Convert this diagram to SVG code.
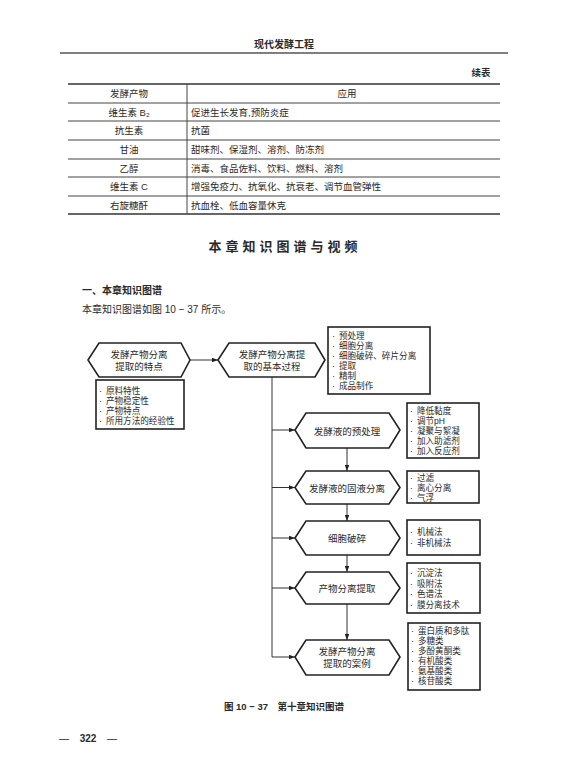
<svg xmlns="http://www.w3.org/2000/svg" width="574" height="784" viewBox="0 0 574 784">
<style>
text{font-family:"Liberation Sans","Noto Sans CJK SC",sans-serif;fill:#2a2a2a;dominant-baseline:central}
.t{font-size:9.5px}
.c{text-anchor:middle}
.b{font-weight:bold}
.it{font-size:8.6px}
.it tspan{dx:0}
.hx{fill:#fff;stroke:#222;stroke-width:1.6}
.bx{fill:#fff;stroke:#222;stroke-width:1.6}
.ln{stroke:#333;stroke-width:1;fill:none}
.tl{stroke:#444;stroke-width:1}
.tt{stroke:#333;stroke-width:1.6}
</style>
<defs>
<marker id="ah" viewBox="0 0 8 6" refX="8" refY="3" markerWidth="6" markerHeight="4.5" orient="auto" markerUnits="userSpaceOnUse"><path d="M0,0 L8,3 L0,6 z" fill="#222"/></marker>
</defs>
<rect width="574" height="784" fill="#fff"/>
<!-- header -->
<text x="284" y="44" class="c b" style="font-size:10px">现代发酵工程</text>
<line x1="60" y1="53" x2="508" y2="53" stroke="#555" stroke-width="1.5"/>
<text x="481" y="72" class="c b" style="font-size:9.5px">续表</text>
<!-- table -->
<g id="table">
<line x1="68" y1="84" x2="500" y2="84" class="tt"/>
<line x1="68" y1="103" x2="500" y2="103" class="tl"/>
<line x1="68" y1="121" x2="500" y2="121" class="tl"/>
<line x1="68" y1="140" x2="500" y2="140" class="tl"/>
<line x1="68" y1="159" x2="500" y2="159" class="tl"/>
<line x1="68" y1="177" x2="500" y2="177" class="tl"/>
<line x1="68" y1="196" x2="500" y2="196" class="tl"/>
<line x1="68" y1="214" x2="500" y2="214" class="tt"/>
<line x1="187" y1="84" x2="187" y2="214" class="tl"/>
<text x="129" y="93.5" class="t c">发酵产物</text>
<text x="347" y="93.5" class="t c">应用</text>
<text x="129" y="112" class="t c">维生素 B₂</text>
<text x="191" y="112" class="t">促进生长发育,预防炎症</text>
<text x="129" y="130.5" class="t c">抗生素</text>
<text x="191" y="130.5" class="t">抗菌</text>
<text x="129" y="149.5" class="t c">甘油</text>
<text x="191" y="149.5" class="t">甜味剂、保湿剂、溶剂、防冻剂</text>
<text x="129" y="168" class="t c">乙醇</text>
<text x="191" y="168" class="t">消毒、食品佐料、饮料、燃料、溶剂</text>
<text x="129" y="186.5" class="t c">维生素 C</text>
<text x="191" y="186.5" class="t">增强免疫力、抗氧化、抗衰老、调节血管弹性</text>
<text x="129" y="205" class="t c">右旋糖酐</text>
<text x="191" y="205" class="t">抗血栓、低血容量休克</text>
</g>
<text x="285" y="246" class="c b" style="font-size:13px;letter-spacing:4px">本章知识图谱与视频</text>
<text x="82" y="290" class="b" style="font-size:10px">一、本章知识图谱</text>
<text x="82" y="309" style="font-size:10px">本章知识图谱如图 10 − 37 所示。</text>
<!-- connectors -->
<g id="connectors">
<line x1="190" y1="360" x2="218" y2="360" class="ln" marker-end="url(#ah)"/>
<polyline points="272,377 272,657 295,657" class="ln" marker-end="url(#ah)"/>
<line x1="272" y1="430" x2="295" y2="430" class="ln" marker-end="url(#ah)"/>
<line x1="272" y1="487.5" x2="295" y2="487.5" class="ln" marker-end="url(#ah)"/>
<line x1="272" y1="538" x2="295" y2="538" class="ln" marker-end="url(#ah)"/>
<line x1="272" y1="588" x2="295" y2="588" class="ln" marker-end="url(#ah)"/>
<line x1="347" y1="448" x2="347" y2="471" class="ln" marker-end="url(#ah)"/>
<line x1="347" y1="504" x2="347" y2="521" class="ln" marker-end="url(#ah)"/>
<line x1="347" y1="555" x2="347" y2="572" class="ln" marker-end="url(#ah)"/>
<line x1="347" y1="604" x2="347" y2="640" class="ln" marker-end="url(#ah)"/>
</g>
<!-- nodes -->
<g id="n_tedian">
<polygon points="88,360 99,343 181,343 190,360 181,377 99,377" class="hx"/>
<text x="139" y="354.5" class="t c">发酵产物分离</text>
<text x="139" y="366" class="t c">提取的特点</text>
</g>
<g id="n_tedian_list">
<rect x="96" y="380" width="88" height="49" class="bx"/>
<text x="99" y="390.5" class="it">·<tspan dx="4">原料特性</tspan></text>
<text x="99" y="400.5" class="it">·<tspan dx="4">产物稳定性</tspan></text>
<text x="99" y="410.5" class="it">·<tspan dx="4">产物特点</tspan></text>
<text x="99" y="420.5" class="it">·<tspan dx="4">所用方法的经验性</tspan></text>
</g>
<g id="n_guocheng">
<polygon points="218,360 229,343 315,343 325,360 315,377 229,377" class="hx"/>
<text x="272" y="354.5" class="t c">发酵产物分离提</text>
<text x="272" y="366" class="t c">取的基本过程</text>
</g>
<g id="n_guocheng_list">
<rect x="328" y="327" width="102" height="67" class="bx"/>
<text x="332" y="336" class="it">·<tspan dx="4">预处理</tspan></text>
<text x="332" y="346" class="it">·<tspan dx="4">细胞分离</tspan></text>
<text x="332" y="356" class="it">·<tspan dx="4">细胞破碎、碎片分离</tspan></text>
<text x="332" y="366" class="it">·<tspan dx="4">提取</tspan></text>
<text x="332" y="376" class="it">·<tspan dx="4">精制</tspan></text>
<text x="332" y="386" class="it">·<tspan dx="4">成品制作</tspan></text>
</g>
<g id="n_yuchuli">
<polygon points="295,430 306,413 389,413 400,430 389,448 306,448" class="hx"/>
<text x="347" y="431" class="t c">发酵液的预处理</text>
</g>
<g id="n_yuchuli_list">
<rect x="407" y="403" width="72" height="55" class="bx"/>
<text x="410" y="411" class="it">·<tspan dx="4">降低黏度</tspan></text>
<text x="410" y="421" class="it">·<tspan dx="4">调节pH</tspan></text>
<text x="410" y="431" class="it">·<tspan dx="4">凝聚与絮凝</tspan></text>
<text x="410" y="441" class="it">·<tspan dx="4">加入助滤剂</tspan></text>
<text x="410" y="451" class="it">·<tspan dx="4">加入反应剂</tspan></text>
</g>
<g id="n_guye">
<polygon points="295,487.5 306,471 389,471 400,487.5 389,504 306,504" class="hx"/>
<text x="347" y="488" class="t c">发酵液的固液分离</text>
</g>
<g id="n_guye_list">
<rect x="407" y="471" width="72" height="32" class="bx"/>
<text x="410" y="478" class="it">·<tspan dx="4">过滤</tspan></text>
<text x="410" y="488" class="it">·<tspan dx="4">离心分离</tspan></text>
<text x="410" y="498" class="it">·<tspan dx="4">气浮</tspan></text>
</g>
<g id="n_posui">
<polygon points="295,538 306,521 389,521 400,538 389,555 306,555" class="hx"/>
<text x="347" y="538.5" class="t c">细胞破碎</text>
</g>
<g id="n_posui_list">
<rect x="407" y="520" width="73" height="35" class="bx"/>
<text x="410" y="532" class="it">·<tspan dx="4">机械法</tspan></text>
<text x="410" y="543" class="it">·<tspan dx="4">非机械法</tspan></text>
</g>
<g id="n_tiqu">
<polygon points="295,588 306,572 389,572 400,588 389,604 306,604" class="hx"/>
<text x="347" y="588.5" class="t c">产物分离提取</text>
</g>
<g id="n_tiqu_list">
<rect x="407" y="563" width="73" height="50" class="bx"/>
<text x="410" y="573" class="it">·<tspan dx="4">沉淀法</tspan></text>
<text x="410" y="583.5" class="it">·<tspan dx="4">吸附法</tspan></text>
<text x="410" y="594" class="it">·<tspan dx="4">色谱法</tspan></text>
<text x="410" y="604.5" class="it">·<tspan dx="4">膜分离技术</tspan></text>
</g>
<g id="n_anli">
<polygon points="295,657 306,640 389,640 400,657 389,675 306,675" class="hx"/>
<text x="347" y="651.5" class="t c">发酵产物分离</text>
<text x="347" y="663" class="t c">提取的案例</text>
</g>
<g id="n_anli_list">
<rect x="408" y="623" width="72" height="67" class="bx"/>
<text x="411" y="631" class="it">·<tspan dx="4">蛋白质和多肽</tspan></text>
<text x="411" y="641" class="it">·<tspan dx="4">多糖类</tspan></text>
<text x="411" y="651" class="it">·<tspan dx="4">多酚黄酮类</tspan></text>
<text x="411" y="661" class="it">·<tspan dx="4">有机酸类</tspan></text>
<text x="411" y="671" class="it">·<tspan dx="4">氨基酸类</tspan></text>
<text x="411" y="681" class="it">·<tspan dx="4">核苷酸类</tspan></text>
</g>
<text x="284" y="706" class="c b" style="font-size:9.5px">图 10 − 37　第十章知识图谱</text>
<text x="64" y="738" class="c" style="font-size:10px">—</text>
<text x="88" y="738" class="c b" style="font-size:10px">322</text>
<text x="112" y="738" class="c" style="font-size:10px">—</text>
</svg>
